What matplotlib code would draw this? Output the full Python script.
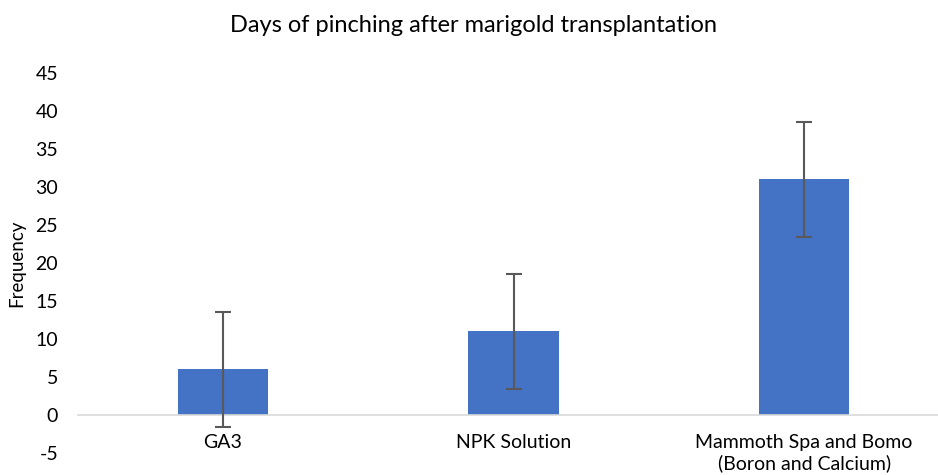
import matplotlib.pyplot as plt
import numpy as np

plt.rcParams['font.family'] = ['Lato', 'DejaVu Sans']
plt.rcParams['axes.unicode_minus'] = False

categories = ["GA3", "NPK Solution", "Mammoth Spa and Bomo\n(Boron and Calcium)"]
values = [6, 11, 31]
errors = [7.6, 7.6, 7.6]
yticks = np.arange(-5, 50, 5)

fig = plt.figure(figsize=(9.38, 4.75), dpi=100)
# axes spans slightly past the right edge, like the cropped original
ax = fig.add_axes([77.5/938, (475-453)/475, 872/938, 380/475])

x = np.arange(len(categories))
ax.bar(x, values, width=0.31, color='#4472C4', zorder=2)
ax.errorbar(x, values, yerr=errors, fmt='none', ecolor='#595959',
            elinewidth=1.5, capsize=6, capthick=1.5, zorder=3)

ax.set_xlim(-0.5, 2.5)
ax.set_ylim(-5, 45)
ax.set_yticks(yticks)
ax.set_xticks(x)
ax.set_xticklabels(categories, linespacing=1.15)
ax.tick_params(axis='y', length=0, labelsize=14, pad=14, colors='#000000')
ax.tick_params(axis='x', length=0, pad=14, labelsize=14, colors='#000000')

for s in ['top', 'right', 'left']:
    ax.spines[s].set_visible(False)
ax.spines['bottom'].set_position(('data', 0))
ax.spines['bottom'].set_color('#D9D9D9')
ax.spines['bottom'].set_linewidth(1.2)

ax.set_ylabel("Frequency", fontsize=13.5)
ax.yaxis.set_label_coords(-52/872, 0.5)
fig.text(473/938, 1 - 25/475, "Days of pinching after marigold transplantation",
         ha='center', va='center', fontsize=17)

fig.savefig("out.png", dpi=100)
